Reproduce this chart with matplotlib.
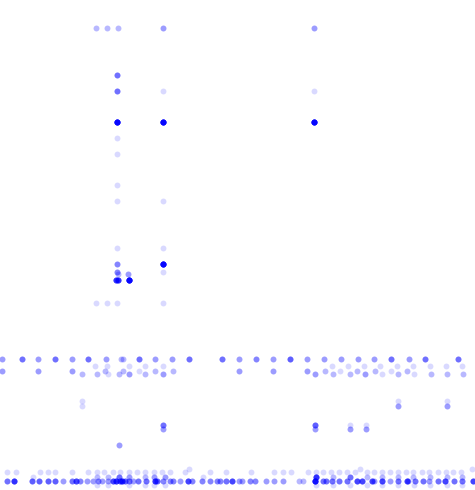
import numpy as np
import matplotlib
matplotlib.use("Agg")
from matplotlib import pyplot as plt

# points: x, y and how many points stack on each spot
upper_x = [96, 107, 118, 163, 314,
           117,
           117, 163, 314,
           117, 163, 314,
           117, 117,
           117, 117, 163,
           117, 163,
           117, 163,
           117, 163,
           118, 128,
           116, 118, 129,
           96, 107, 117, 163]
upper_y = [462, 462, 462, 462, 462,
           415,
           399, 399, 399,
           368, 368, 368,
           352, 336,
           305, 289, 289,
           242, 242,
           226, 226,
           218, 218,
           216, 216,
           210, 210, 210,
           187, 187, 187, 187]
upper_n = [2, 2, 2, 3, 3,
           5,
           5, 1, 1,
           20, 20, 20,
           1, 1,
           1, 1, 1,
           1, 1,
           4, 20,
           4, 1,
           2, 3,
           10, 10, 20,
           1, 1, 1, 1]

band_top_x = [1.5, 22, 38, 55, 72, 88, 106, 121, 123, 139, 155, 172, 189, 222, 239,
              256, 273, 290, 307, 324, 341, 358, 374, 391, 409, 425, 458]
band_top_n = [3, 5, 3, 5, 3, 5, 3, 2, 2, 5, 3, 3, 5, 5, 3,
              4, 3, 6, 3, 3, 3, 3, 3, 5, 3, 5, 5]
band_mid_x = [1.5, 38, 72, 105, 123, 155, 173, 239, 273, 307, 325, 340, 357, 375, 391, 407, 139]
band_mid_n = [3, 3, 3, 2, 2, 2, 2, 3, 3, 3, 2, 1, 2, 2, 1, 2, 1]
band_light_x = [95, 107, 129, 145, 163, 332, 348, 364, 380, 397, 413, 430, 446, 462]
band_low_x = [82, 97, 108, 119, 129, 145, 163, 315, 333, 350, 365, 382, 398, 414, 431, 447, 463]
band_low_n = [2, 2, 1, 2, 3, 2, 3, 3, 2, 2, 3, 1, 2, 1, 2, 2, 2]

middle_x = [82, 82, 398, 398, 447, 447, 163, 163, 315, 315, 350, 350, 366, 366, 119]
middle_y = [89, 84, 89, 84, 89, 84, 65, 61, 65, 61, 65, 61, 65, 61, 45]
middle_n = [1, 1, 1, 3, 1, 3, 5, 3, 6, 3, 1, 3, 1, 3, 3]

floor_light_x = [7, 16, 40, 48, 55, 72, 88, 97, 104, 113, 120, 129, 137, 145, 154, 162,
                 170, 185, 210, 226, 251, 274, 283, 291, 308, 316, 323, 331, 339, 347,
                 355, 367, 374, 382, 390, 398, 406, 413, 422, 429, 438, 446, 453, 461]
floor_high_x = [189, 360, 472]
floor_mid_x = [33, 97, 108, 119, 129, 145, 154, 165, 203, 316, 333, 350, 367, 382, 398,
               413, 430, 447, 462]
floor_mid_n = [1, 2, 2, 5, 3, 2, 3, 3, 1, 10, 2, 5, 2, 2, 2, 2, 2, 2, 2]
floor_x = [7, 14, 32, 39, 48, 55, 63, 72, 76, 80, 87, 93, 98, 102, 108, 113, 116, 120,
           122, 125, 129, 133, 138, 146, 155, 157, 163, 170, 173, 180, 188, 192, 202,
           210, 217, 220, 226, 232, 239, 242, 250, 255, 266, 274, 283, 299, 303, 315,
           323, 326, 332, 339, 347, 357, 362, 372, 374, 382, 390, 398, 407, 408, 415,
           423, 429, 438, 445, 454, 462, 473]
floor_n = [5, 10, 6, 6, 6, 6, 3, 5, 8, 4, 3, 3, 4, 3, 3, 8, 10, 8,
           10, 6, 5, 3, 5, 5, 10, 6, 4, 4, 4, 3, 8, 4, 4,
           4, 4, 4, 5, 8, 3, 3, 4, 4, 3, 3, 3, 2, 2, 15,
           5, 5, 5, 5, 5, 8, 8, 8, 3, 8, 3, 5, 8, 3, 5,
           5, 3, 5, 8, 5, 5, 8]
floor_scatter_x = [97, 108, 129, 145, 154, 165, 316, 333, 350, 367, 382, 398, 414, 430, 447, 462]

xs, ys, ns = [], [], []


def add(x, y, n=None):
    if np.isscalar(y):
        y = [y] * len(x)
    if n is None:
        n = [1] * len(x)
    xs.extend(x)
    ys.extend(y)
    ns.extend(n)


add(upper_x, upper_y, upper_n)
add(band_top_x, 131.5, band_top_n)
add(band_mid_x, 119.5, band_mid_n)
add(band_light_x, 124)
add(band_low_x, 116, band_low_n)
add(middle_x, middle_y, middle_n)
add(floor_light_x, 18)
add(floor_high_x, 21)
add(floor_mid_x, 13.5, floor_mid_n)
add(floor_x, 8.7, floor_n)
add(floor_scatter_x, 5.5)

x = np.repeat(xs, ns)
y = np.repeat(ys, ns)

fig = plt.figure(figsize=(4.75, 4.9), dpi=100)
ax = fig.add_axes([0, 0, 1, 1])
ax.scatter(x, y, s=18, color="blue", alpha=0.15, linewidths=0)
ax.set_xlim(0, 475)
ax.set_ylim(0, 490)
ax.axis("off")
fig.savefig("out.png", dpi=100)
